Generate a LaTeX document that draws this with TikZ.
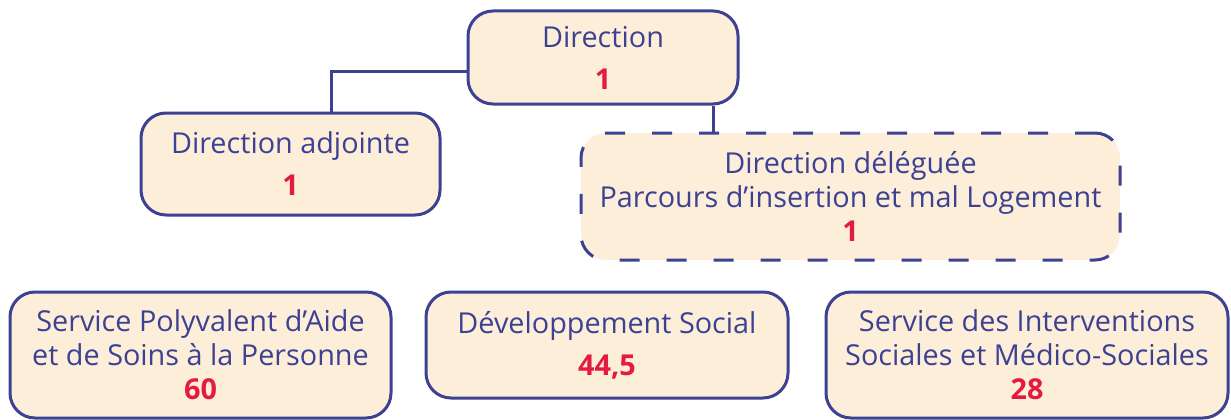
\documentclass[tikz,border=0pt]{standalone}
\usepackage{fontspec}
\setmainfont{Open Sans}
\usepackage{tikz}
\usetikzlibrary{positioning}
\definecolor{orgblue}{HTML}{3C4192}
\definecolor{orgfill}{HTML}{FDEEDA}
\definecolor{orgred}{HTML}{E31B3F}
\newcommand{\effectif}[1]{{\color{orgred}\bfseries #1}}

\begin{document}
\begin{tikzpicture}[x = 1pt, y = -1pt,
    unit/.style = {draw = orgblue, fill = orgfill, line width = 3pt, rounded corners = 25pt, align = center, text = orgblue, inner sep = 0pt, font = \fontsize{28.8}{34}\selectfont},
    dashedunit/.style = {unit, dash pattern = on 20pt off 27pt},
    link/.style = {draw = orgblue, line width = 3pt}]
      \useasboundingbox (0,0) rectangle (1231,420);
      \node[unit, minimum width = 270pt, minimum height = 93pt] (dir) at (603,57.5) {Direction\\[8pt]\effectif{1}};
      \node[unit, minimum width = 299pt, minimum height = 102pt] (adj) at (290.5,164) {Direction adjointe\\[8pt]\effectif{1}};
      \node[dashedunit, minimum width = 539pt, minimum height = 127pt] (del) at (850.5,196.5) {Direction déléguée\\Parcours d’insertion et mal Logement\\\effectif{1}};
      \node[unit, minimum width = 381pt, minimum height = 126pt] (spasp) at (200.5,355) {Service Polyvalent d’Aide\\et de Soins à la Personne\\\effectif{60}};
      \node[unit, minimum width = 362pt, minimum height = 106pt] (devsoc) at (607,345) {Développement Social\\[8pt]\effectif{44,5}};
      \node[unit, minimum width = 402pt, minimum height = 126pt] (sisms) at (1027,355) {Service des Interventions\\Sociales et Médico-Sociales\\\effectif{28}};
      \draw[link] ([yshift = -14.5pt]dir.west) -| ([xshift = 40.5pt]adj.north);
      \draw[link] ([xshift = 110pt]dir.south) -- ([xshift = 110pt]dir.south |- del.north);
\end{tikzpicture}
\end{document}
